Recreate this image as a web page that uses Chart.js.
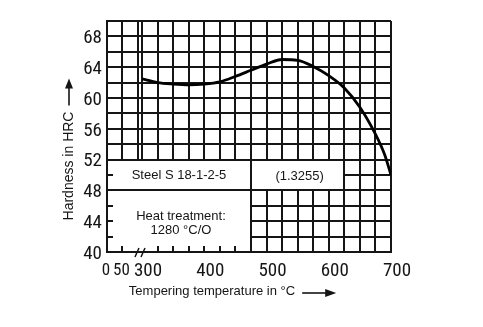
<!DOCTYPE html>
<html><head><meta charset="utf-8">
<script src="https://cdn.jsdelivr.net/npm/chart.js@4.4.0/dist/chart.umd.min.js"></script>
<style>html,body{margin:0;padding:0;background:#fff;}#wrap{width:483px;height:327px;}</style>
</head><body><div id="wrap"><canvas id="c" width="483" height="327"></canvas></div>
<script>
// ---- data ----
const temperatures = [300, 325, 350, 375, 400, 425, 450, 475, 500, 525, 550, 575, 600, 625, 650, 675, 690, 700];
const hardnessHRC  = [62.5, 62.0, 61.8, 61.7, 61.8, 62.1, 62.8, 63.6, 64.4, 65.0, 64.9, 64.1, 62.9, 61.3, 58.8, 55.3, 52.6, 50.0];
const lowTempTicks = [0, 50, 100];
const lowTempLabels = [0, 50];
const highTempLabels = [300, 400, 500, 600, 700];
const yTickLabels = [40, 44, 48, 52, 56, 60, 64, 68];
const yAxisTitle = 'Hardness in HRC';
const xAxisTitle = 'Tempering temperature in °C';
const steelLabel = 'Steel S 18-1-2-5';
const materialNo = '(1.3255)';
const heatLines = ['Heat treatment:', '1280 °C/O'];

const FONT_NUM = "'Roboto Condensed','Open Sans Condensed',sans-serif";
const FONT_TXT = "'Liberation Sans',Arial,sans-serif";
const INK = '#151515';

const annot = {
  id: 'annot',
  beforeDatasetsDraw(chart) {
    const {ctx, scales: {x1, x2, y}} = chart;
    const R = Math.round;
    const L = R(x1.getPixelForValue(0));
    const xa = R(x2.getPixelForValue(475)), xb = R(x2.getPixelForValue(625));
    const y52 = R(y.getPixelForValue(52)), y48 = R(y.getPixelForValue(48)), y40 = R(y.getPixelForValue(40));
    ctx.save();
    ctx.fillStyle = '#fff';
    ctx.fillRect(L, y52, xb - L, y48 - y52);
    ctx.fillRect(L, y48, xa - L, y40 - y48);
    ctx.strokeStyle = INK; ctx.lineWidth = 2;
    ctx.beginPath();
    ctx.moveTo(L, y52); ctx.lineTo(xb, y52); ctx.lineTo(xb, y48); ctx.lineTo(L, y48);
    ctx.moveTo(xa, y52); ctx.lineTo(xa, y40);
    ctx.moveTo(L, y40); ctx.lineTo(xa, y40);
    ctx.moveTo(L, y52); ctx.lineTo(L, y40);
    [50, 46, 44, 42].forEach(v => { const p = R(y.getPixelForValue(v)); ctx.moveTo(L, p); ctx.lineTo(L + 6, p); });
    const bx = [x1.getPixelForValue(50)];
    [325, 350, 375, 400, 425, 450].forEach(v => bx.push(x2.getPixelForValue(v)));
    bx.forEach(p => { p = R(p); ctx.moveTo(p, y40); ctx.lineTo(p, y40 - 6); });
    ctx.stroke();
    const xb1 = x1.getPixelForValue(100), xb2 = x2.getPixelForValue(300);
    ctx.lineWidth = 1.5;
    ctx.beginPath();
    ctx.moveTo(xb1 - 3, y40 + 5); ctx.lineTo(xb1 + 1, y40 - 4);
    ctx.moveTo(xb2 - 1, y40 + 5); ctx.lineTo(xb2 + 3, y40 - 4);
    ctx.stroke();
    ctx.restore();
  },
  afterDraw(chart) {
    const {ctx, scales: {x1, x2, y}} = chart;
    const L = x1.getPixelForValue(0);
    const xa = x2.getPixelForValue(475), xb = x2.getPixelForValue(625);
    const y52 = y.getPixelForValue(52), y48 = y.getPixelForValue(48), y40 = y.getPixelForValue(40);
    ctx.save();
    ctx.fillStyle = INK;
    ctx.textAlign = 'center'; ctx.textBaseline = 'middle';
    ctx.font = '13px ' + FONT_TXT;
    ctx.fillText(steelLabel, (L + xa) / 2, (y52 + y48) / 2);
    ctx.fillText(materialNo, (xa + xb) / 2 + 2, (y52 + y48) / 2 + 1);
    const hc = (y48 + y40) / 2;
    ctx.fillText(heatLines[0], (L + xa) / 2 + 2, hc - 5);
    ctx.fillText(heatLines[1], (L + xa) / 2 + 2, hc + 9);

    ctx.font = '14px ' + FONT_TXT;
    const wy = ctx.measureText(yAxisTitle).width;
    const ycx = 69, ycy = 166;
    ctx.save();
    ctx.translate(ycx, ycy); ctx.rotate(-Math.PI / 2);
    ctx.fillText(yAxisTitle, 0, 0);
    ctx.restore();
    const ytop = ycy - wy / 2;
    ctx.strokeStyle = INK; ctx.lineWidth = 1.6;
    ctx.beginPath(); ctx.moveTo(ycx, ytop - 6); ctx.lineTo(ycx, ytop - 26); ctx.stroke();
    ctx.beginPath(); ctx.moveTo(ycx, ytop - 33); ctx.lineTo(ycx - 4, ytop - 23); ctx.lineTo(ycx + 4, ytop - 23); ctx.closePath(); ctx.fill();

    ctx.font = '13px ' + FONT_TXT;
    const wx = ctx.measureText(xAxisTitle).width;
    const xcx = 212, xcy = 291;
    ctx.fillText(xAxisTitle, xcx, xcy);
    const xend = xcx + wx / 2;
    ctx.beginPath(); ctx.moveTo(xend + 7, xcy + 2); ctx.lineTo(xend + 32, xcy + 2); ctx.stroke();
    ctx.beginPath(); ctx.moveTo(xend + 41, xcy + 2); ctx.lineTo(xend + 30, xcy - 2); ctx.lineTo(xend + 30, xcy + 6); ctx.closePath(); ctx.fill();
    ctx.restore();
  }
};

const gridOpts = {color: INK, lineWidth: 2, drawTicks: false};
const borderOpts = {color: INK, width: 2};
const numFont = {family: FONT_NUM, size: 19};

new Chart(document.getElementById('c').getContext('2d'), {
  type: 'line',
  data: {
    datasets: [{
      data: temperatures.map((t, i) => ({x: t, y: hardnessHRC[i]})),
      xAxisID: 'x2', yAxisID: 'y',
      borderColor: '#000', borderWidth: 2.8, pointRadius: 0, fill: false,
      cubicInterpolationMode: 'monotone'
    }]
  },
  options: {
    responsive: false, animation: false, devicePixelRatio: 1,
    layout: {padding: {left: 0, right: 92, top: 21, bottom: 0}},
    plugins: {legend: {display: false}, tooltip: {enabled: false}, title: {display: false}},
    scales: {
      x1: {
        type: 'linear', position: 'bottom', stack: 'xs', stackWeight: 35, min: 0, max: 113,
        afterBuildTicks: s => { s.ticks = lowTempTicks.map(v => ({value: v})); },
        afterFit: s => { s.height = 75; },
        grid: gridOpts, border: borderOpts,
        ticks: {autoSkip: false, maxRotation: 0, padding: 9, labelOffset: -1, color: INK,
          font: {family: FONT_NUM, size: 17},
          callback: v => lowTempLabels.includes(v) ? String(v) : ''}
      },
      x2: {
        type: 'linear', position: 'bottom', stack: 'xs', stackWeight: 249, min: 300, max: 700,
        afterFit: s => { s.height = 75; },
        grid: gridOpts, border: borderOpts,
        ticks: {stepSize: 25, autoSkip: false, maxRotation: 0, padding: 8, labelOffset: 6, color: INK, font: numFont,
          callback: v => highTempLabels.includes(v) ? String(v) : ''}
      },
      y: {
        type: 'linear', position: 'left', min: 40, max: 70,
        afterFit: s => { s.width = 107; },
        grid: gridOpts, border: borderOpts,
        ticks: {stepSize: 2, autoSkip: false, padding: 5, labelOffset: 2, color: INK, font: numFont,
          callback: v => yTickLabels.includes(v) ? String(v) : ''}
      }
    }
  },
  plugins: [annot]
});
</script>
</body></html>
